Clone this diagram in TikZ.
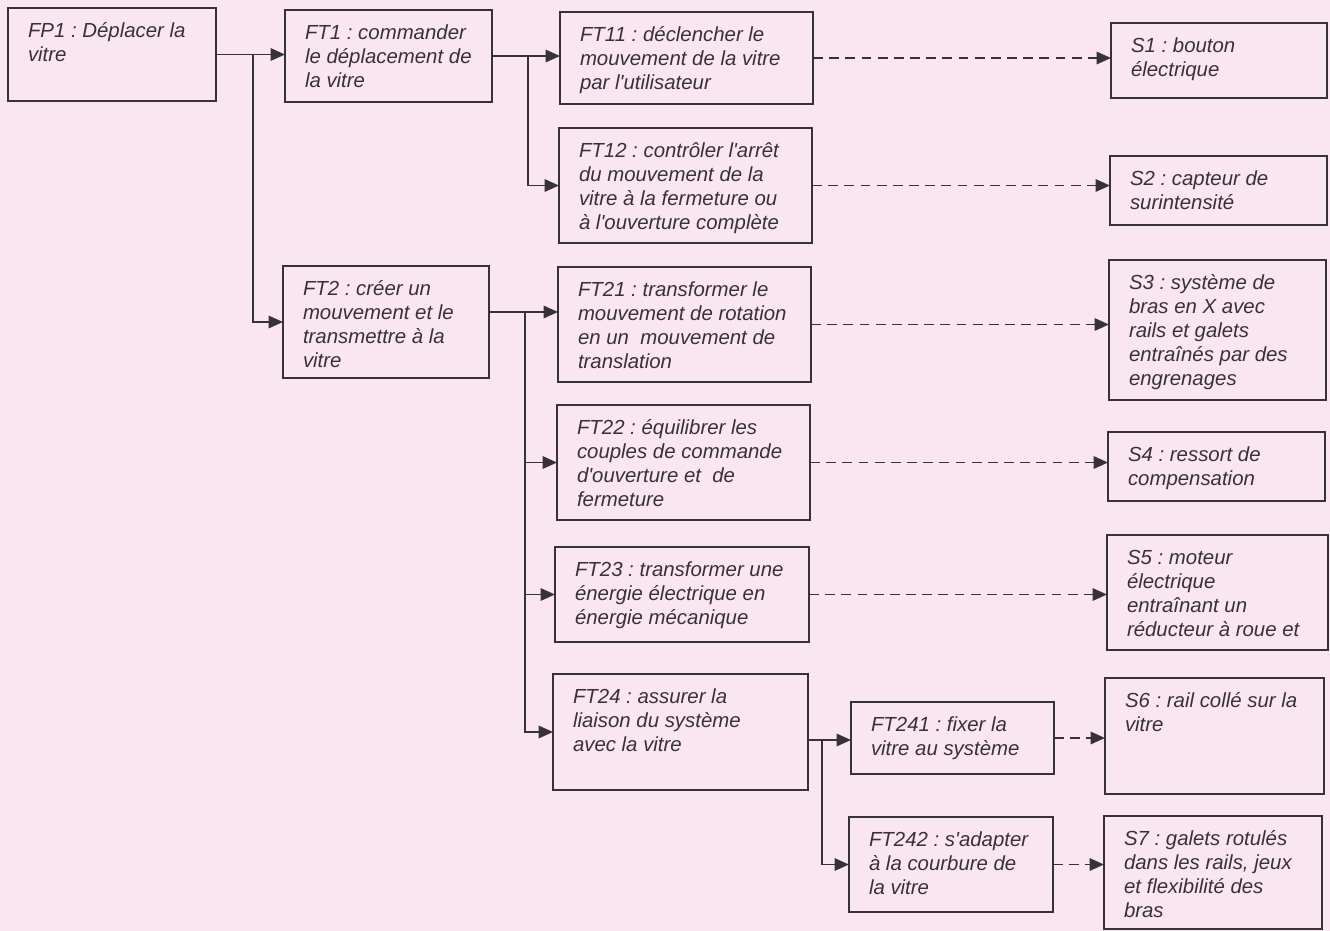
\documentclass[tikz,border=0pt]{standalone}
\usepackage{fontspec}
\setmainfont{Liberation Sans}
\usetikzlibrary{arrows.meta}
\definecolor{fond}{RGB}{250,230,238}
\definecolor{trait}{RGB}{55,50,55}
\newcommand\cadre[3]{\parbox[t][#2][t]{#1}{\raggedright\frenchspacing\strut #3}}
\newcommand\apos{\textquotesingle}

\begin{document}
\begin{tikzpicture}[x=0.025cm,y=-0.025cm,line width=1.4pt,>={Triangle[length=3.6mm,width=3.1mm]},
  blk/.style={draw=trait,line width=1.3pt,anchor=north west,inner xsep=0.5cm,inner ysep=0.32cm,outer sep=0pt,
    text=trait,font=\itshape\fontsize{14.5}{17}\selectfont},
  lien/.style={draw=trait,->},
  pointille/.style={draw=trait,->,dash pattern=on 7pt off 4.5pt}]
% fond de page
\fill[fond] (0,0) rectangle (1330,931);
\useasboundingbox (0,0) rectangle (1330,931);
% fonctions : FP1, FT1, FT2
\node[blk] (fp1) at (8,8) {\cadre{4.2cm}{1.685cm}{FP1 : Déplacer la\\vitre}};
\node[blk] (ft1) at (285,10) {\cadre{4.175cm}{1.66cm}{FT1 : commander\\le déplacement de\\la vitre}};
\node[blk] (ft2) at (283,266) {\cadre{4.15cm}{2.16cm}{FT2 : créer un\\mouvement et le\\transmettre à la\\vitre}};
% fonctions techniques de niveau 2
\node[blk] (ft11) at (560,12) {\cadre{5.325cm}{1.66cm}{FT11 : déclencher le\\mouvement de la vitre\\par l\apos utilisateur}};
\node[blk] (ft12) at (559,128) {\cadre{5.325cm}{2.235cm}{FT12 : contrôler l\apos arrêt\\du mouvement de la\\vitre à la fermeture ou\\à l\apos ouverture complète}};
\node[blk] (ft21) at (558,267) {\cadre{5.325cm}{2.235cm}{FT21 : transformer le\\mouvement de rotation\\en un\ \ mouvement de\\translation}};
\node[blk] (ft22) at (557,405) {\cadre{5.325cm}{2.235cm}{FT22 : équilibrer les\\couples de commande\\d\apos ouverture et\ \ de\\fermeture}};
\node[blk] (ft23) at (555,547) {\cadre{5.35cm}{1.735cm}{FT23 : transformer une\\énergie électrique en\\énergie mécanique}};
\node[blk] (ft24) at (553,674) {\cadre{5.375cm}{2.26cm}{FT24 : assurer la\\liaison du système\\avec la vitre}};
\node[blk] (ft241) at (851,702) {\cadre{4.075cm}{1.16cm}{FT241 : fixer la\\vitre au système}};
\node[blk] (ft242) at (849,817) {\cadre{4.1cm}{1.735cm}{FT242 : s\apos adapter\\à la courbure de\\la vitre}};
% solutions
\node[blk] (s1) at (1111,23) {\cadre{4.4cm}{1.235cm}{S1 : bouton\\électrique}};
\node[blk] (s2) at (1110,156) {\cadre{4.425cm}{1.085cm}{S2 : capteur de\\surintensité}};
\node[blk] (s3) at (1109,260) {\cadre{4.425cm}{2.86cm}{S3 : système de\\bras en X avec\\rails et galets\\entraînés par des\\engrenages}};
\node[blk] (s4) at (1108,432) {\cadre{4.425cm}{1.085cm}{S4 : ressort de\\compensation}};
\node[blk] (s5) at (1107,535) {\cadre{4.525cm}{2.235cm}{S5 : moteur\\électrique\\entraînant un\\réducteur à roue et}};
\node[blk] (s6) at (1105,678) {\cadre{4.475cm}{2.26cm}{S6 : rail collé sur la\\vitre}};
\node[blk] (s7) at (1104,816) {\cadre{4.45cm}{2.185cm}{S7 : galets rotulés\\dans les rails, jeux\\et flexibilité des\\bras}};
% points de branchement
\path (fp1.east) ++(37,0) coordinate (j1);
\path (ft1.east) ++(36,0) coordinate (j2);
\coordinate (j3) at (525,312);
\coordinate (j4) at (822,740);
% liaisons
\draw[lien] (fp1.east) -- (fp1.east -| ft1.west);
\draw[lien] (j1) |- (ft2.west);
\draw[lien] (ft1.east) -- (ft1.east -| ft11.west);
\draw[lien] (j2) |- (ft12.west);
\draw[lien] (j3 -| ft2.east) -- (j3 -| ft21.west);
\draw[lien] (j3) |- (ft22.west);
\draw[lien] (j3) |- (ft23.west);
\draw[lien] (j3) |- (ft24.west);
\draw[lien] (j4 -| ft24.east) -- (j4 -| ft241.west);
\draw[lien] (j4) |- (ft242.west);
% fonctions -> solutions
\draw[pointille] (ft11.east) -- (ft11.east -| s1.west);
\draw[pointille] (ft12.east) -- (ft12.east -| s2.west);
\draw[pointille] (ft21.east) -- (ft21.east -| s3.west);
\draw[pointille] (ft22.east) -- (ft22.east -| s4.west);
\draw[pointille] (ft23.east) -- (ft23.east -| s5.west);
\draw[pointille] (ft241.east) -- (ft241.east -| s6.west);
\draw[pointille] (ft242.east) -- (ft242.east -| s7.west);
\end{tikzpicture}
\end{document}
